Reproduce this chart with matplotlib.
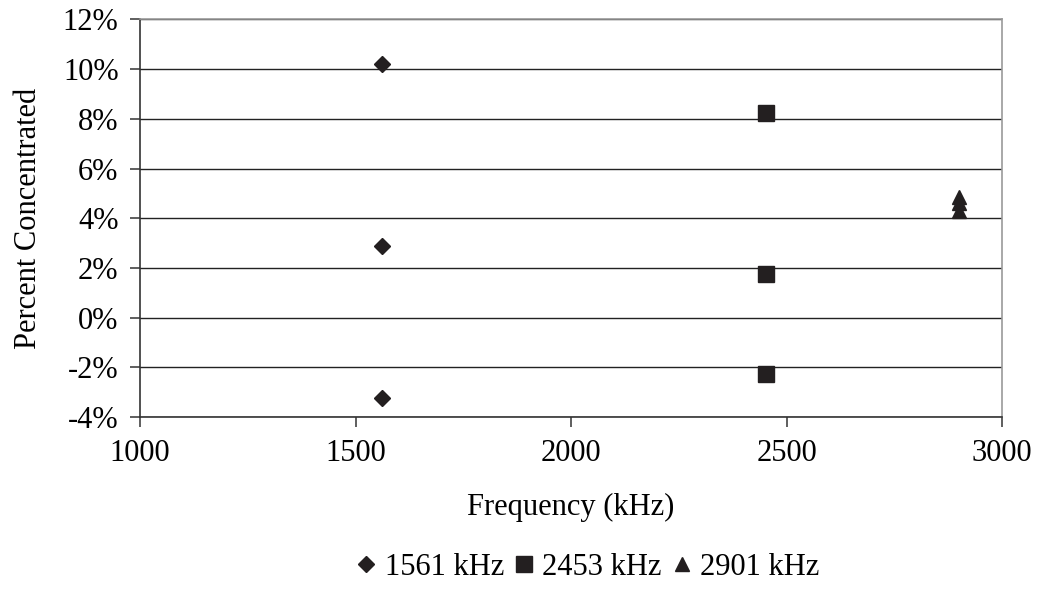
import matplotlib.pyplot as plt
from matplotlib.ticker import FuncFormatter

plt.rcParams['font.family'] = ['Liberation Serif', 'DejaVu Serif']

# readings (kHz, percent)
freq_1561 = [1561, 1561, 1561]
pct_1561 = [10.2, 2.9, -3.25]
freq_2453 = [2453, 2453, 2453]
pct_2453 = [8.25, 1.75, -2.25]
freq_2901 = [2901, 2901, 2901]
pct_2901 = [4.85, 4.6, 4.3]

ink = '#231f20'

fig = plt.figure(figsize=(10.42, 6.09), dpi=100)
ax = fig.add_axes([0.1344, 0.3153, 0.8272, 0.6527])

ax.plot(freq_1561, pct_1561, 'D', color=ink, markersize=8, linestyle='none', label='1561 kHz', zorder=3)
ax.plot(freq_2453, pct_2453, 's', color=ink, markersize=11, linestyle='none', label='2453 kHz', zorder=3)
ax.plot(freq_2901, pct_2901, '^', color=ink, markersize=10, linestyle='none', label='2901 kHz', zorder=3)

ax.set_xlim(1000, 3000)
ax.set_ylim(-4, 12)
ax.set_xticks([1000, 1500, 2000, 2500, 3000])
ax.set_yticks(range(-4, 13, 2))
ax.yaxis.set_major_formatter(FuncFormatter(lambda v, p: f'{v:.0f}%'))
ax.grid(axis='y', color='#222222', linewidth=1.0)
ax.set_axisbelow(True)

for side in ['top', 'right']:
    ax.spines[side].set_color('#999999')
    ax.spines[side].set_linewidth(1.2)
for side in ['left', 'bottom']:
    ax.spines[side].set_color('#333333')
    ax.spines[side].set_linewidth(1.2)

ax.tick_params(direction='out', length=7.5, width=1.1, color='#333333', labelsize=22, pad=8)

ax.set_xlabel('Frequency (kHz)', fontsize=22, labelpad=18)
ax.set_ylabel('Percent Concentrated', fontsize=22, labelpad=14)

fig.legend(loc='center', bbox_to_anchor=(0.563, 0.068), ncol=3, frameon=False,
           fontsize=22, handletextpad=0.2, columnspacing=0.25, handlelength=0.8,
           markerscale=1.0)

fig.savefig('out.png', dpi=100)
